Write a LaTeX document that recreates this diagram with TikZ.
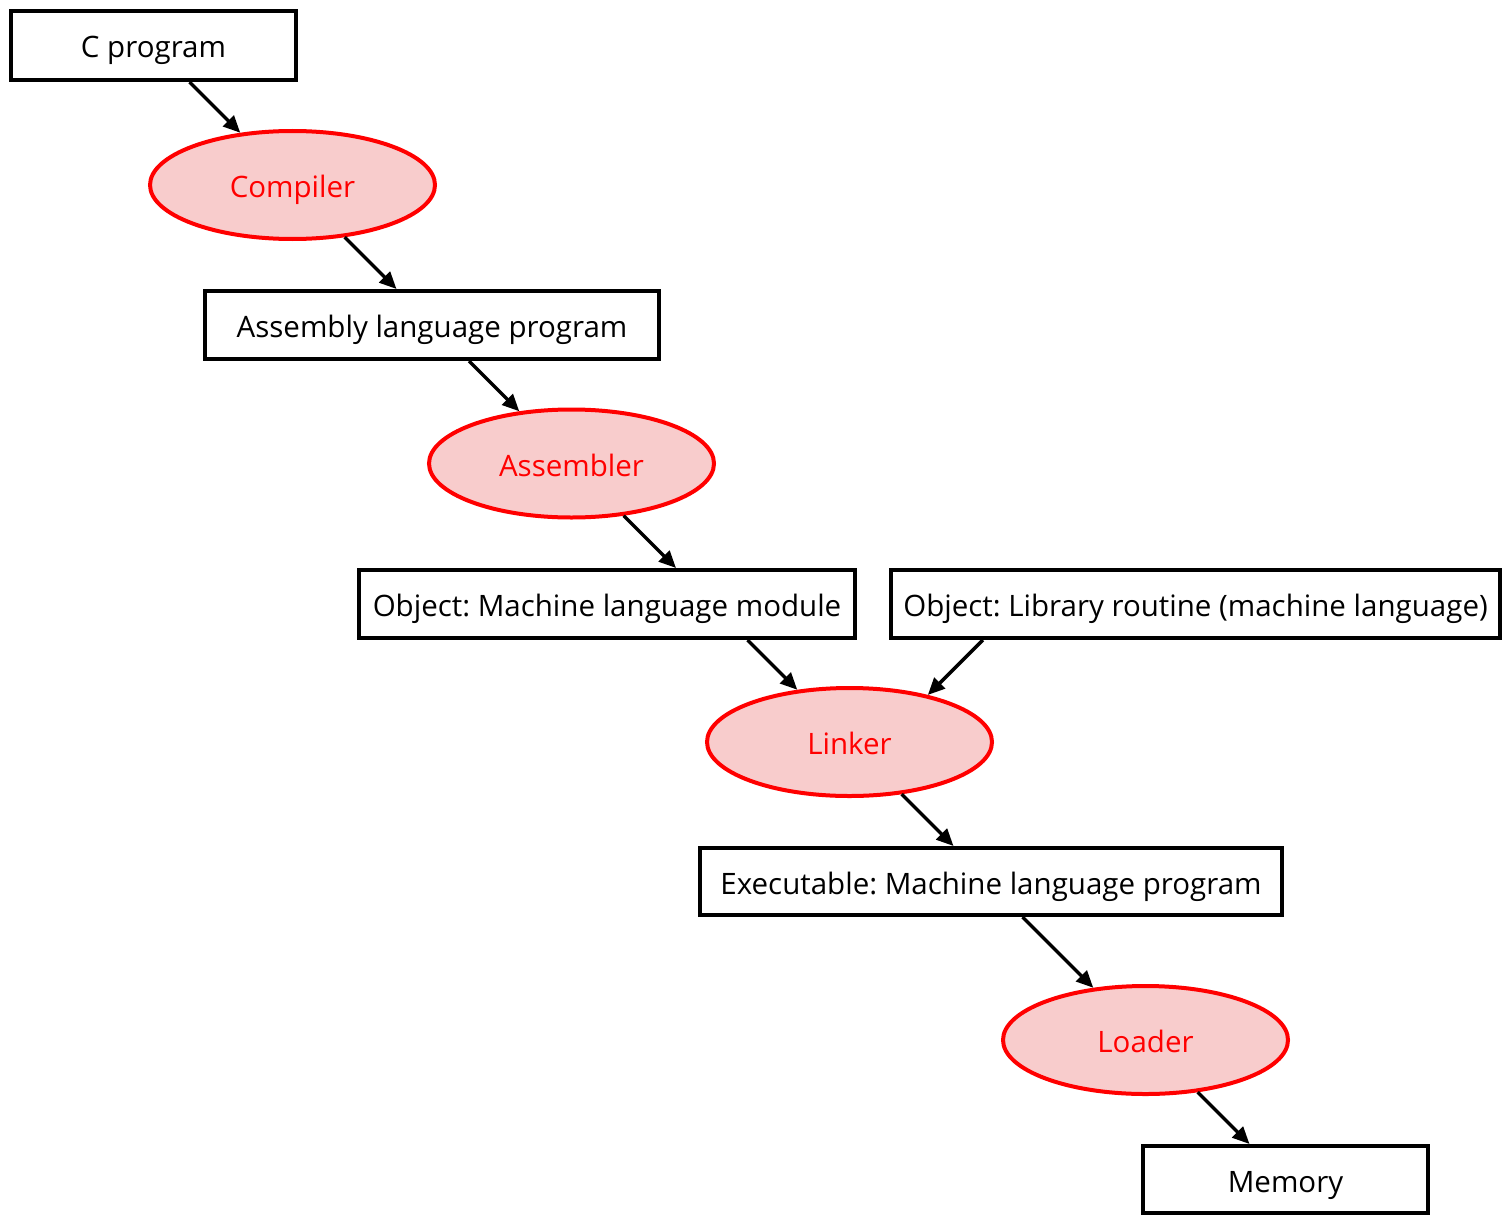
\documentclass[tikz,border=0pt]{standalone}
\usepackage{fontspec}
\setmainfont{Open Sans}
\usetikzlibrary{shapes.geometric,arrows.meta,calc}
\definecolor{procfill}{RGB}{248,204,204}
\definecolor{procred}{RGB}{255,0,0}
\frenchspacing
\begin{document}
\begin{tikzpicture}[x=1pt,y=-1pt,
  txt/.style={font=\fontsize{29.5}{34}\selectfont,text height=31pt,text depth=6pt},
  databox/.style={txt,draw=black,line width=4pt,rectangle,inner sep=0pt,fill=white},
  procell/.style={txt,draw=procred,line width=4pt,ellipse,inner sep=0pt,
    fill=procfill,text=procred,minimum width=285pt,minimum height=108pt},
  arr/.style={line width=3.5pt,-{Triangle[length=17pt,width=15pt]}}]
\useasboundingbox (0,0) rectangle (1503,1217);

% data (rectangles)
\node[databox,minimum width=285pt,minimum height=69pt] (cprog) at (153.5,45.5) {C program};
\node[databox,minimum width=454pt,minimum height=68pt] (asm) at (432,325) {Assembly language program};
\node[databox,minimum width=496pt,minimum height=68pt] (objm) at (607,604) {Object: Machine language module};
\node[databox,minimum width=609pt,minimum height=68pt] (objl) at (1195.5,604) {Object: Library routine (machine language)};
\node[databox,minimum width=582pt,minimum height=67pt] (exe) at (991,881.5) {Executable: Machine language program};
\node[databox,minimum width=285pt,minimum height=67pt] (mem) at (1285.5,1179.5) {Memory};

% processing steps (ellipses)
\node[procell] (comp) at (292.5,185) {Compiler};
\node[procell] (asmr) at (571.5,463.5) {Assembler};
\node[procell] (link) at (849.5,742) {Linker};
\node[procell] (load) at (1145.5,1040) {Loader};

% box -> ellipse: 45 degree line from the box bottom to a border point
\foreach \b/\e/\a in {cprog/comp/135, asm/asmr/135, objm/link/135, exe/load/135}{
  \draw[arr] let \p1=(\e.\a), \p2=(\b.south) in
    (\x1-\y2+\y1,\y2) -- (\e.\a);
}
\draw[arr] let \p1=(link.31), \p2=(objl.south) in
    (\x1+\y2-\y1,\y2) -- (link.31);

% ellipse -> box: 45 degree line from a border point to the box top
\foreach \e/\b in {comp/asm, asmr/objm, link/exe, load/mem}{
  \draw[arr] let \p1=(\e.-45), \p2=(\b.north) in
    (\e.-45) -- (\x1+\y1-\y2,\y2);
}
\end{tikzpicture}
\end{document}
